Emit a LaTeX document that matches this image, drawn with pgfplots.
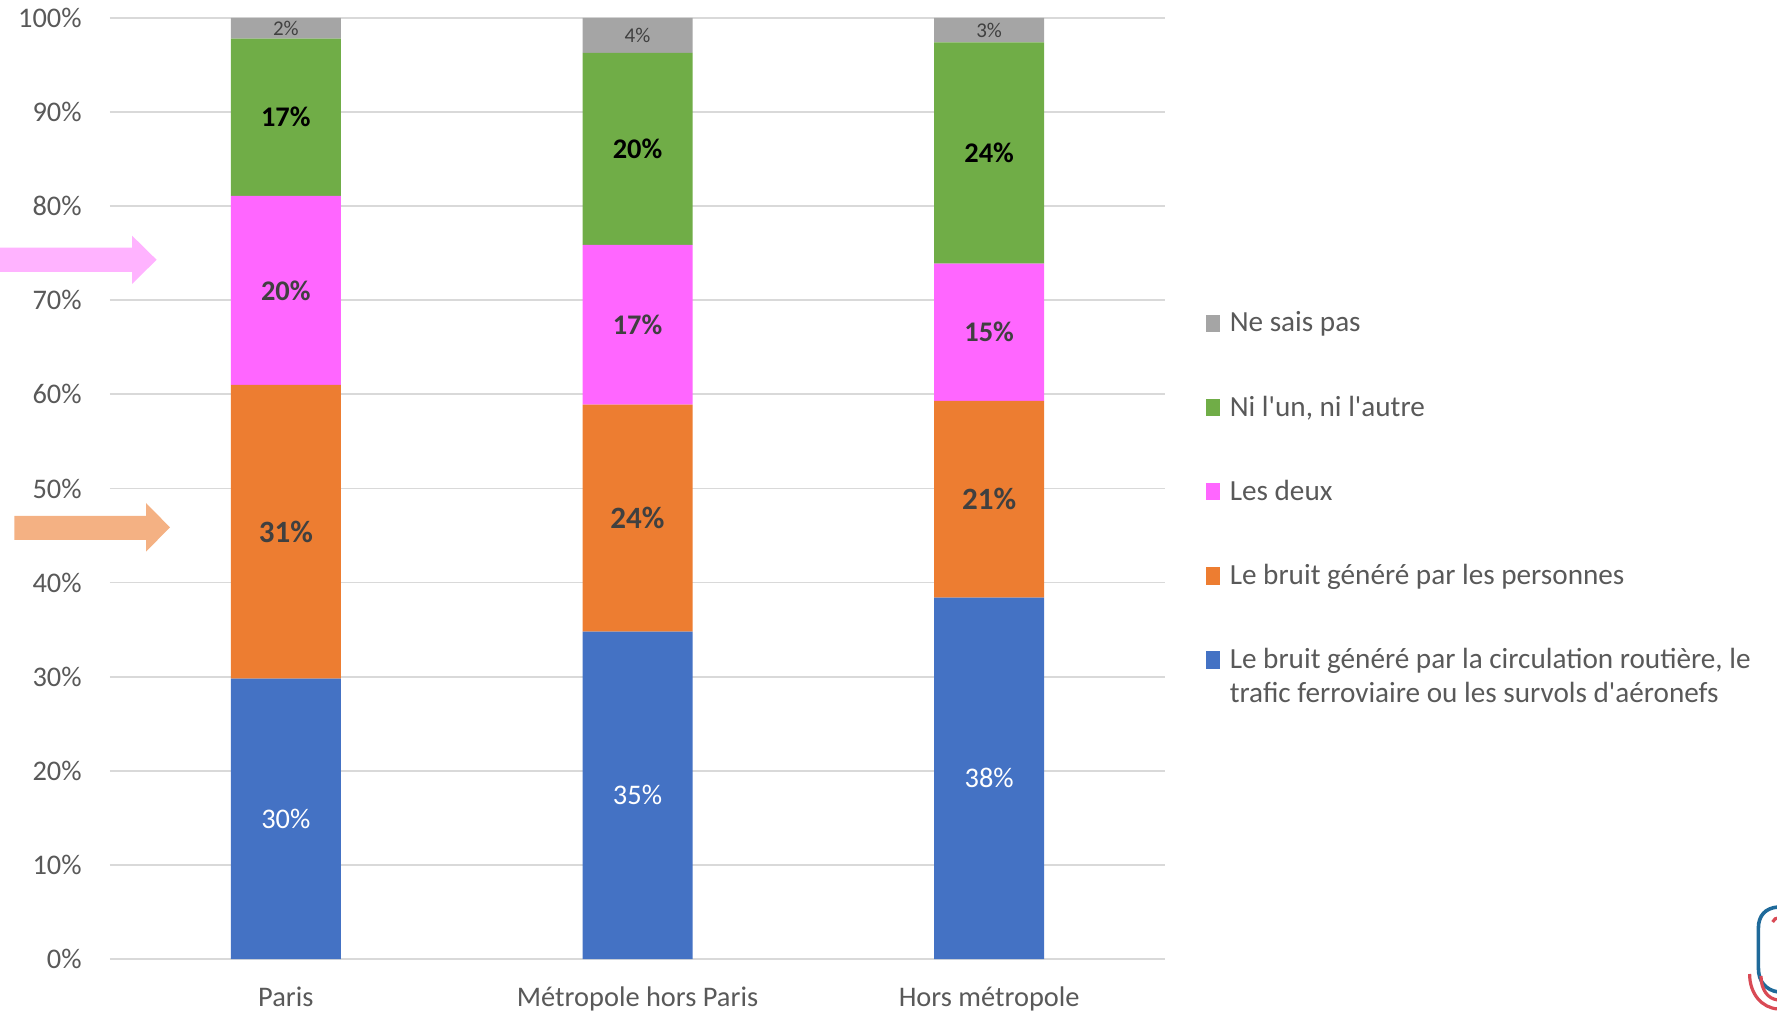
\documentclass[border=0pt]{standalone}
\usepackage{pgfplots}
\pgfplotsset{compat=1.18}
\usepackage{pgfplotstable}
\usepackage{fontspec}
\setmainfont{Carlito}
\definecolor{cblue}{HTML}{4472C4}
\definecolor{corange}{HTML}{ED7D31}
\definecolor{cpink}{HTML}{FF66FF}
\definecolor{cgreen}{HTML}{70AD47}
\definecolor{cgray}{HTML}{A5A5A5}
\definecolor{gridc}{HTML}{D9D9D9}
\definecolor{tickc}{HTML}{595959}
\definecolor{labc}{HTML}{404040}
\definecolor{arrpink}{HTML}{FFB3FF}
\definecolor{arrorange}{HTML}{F4B183}
\definecolor{logoblue}{HTML}{1F6A9A}
\definecolor{logored}{HTML}{D94A55}

\pgfplotstableread{
x blue orange pink green gray
0 29.8 31.2 20.1 16.7 2.2
1 34.8 24.1 17.0 20.4 3.7
2 38.4 20.9 14.6 23.5 2.6
}\datatable

\pgfplotsset{
  common/.style={
    scale only axis, width=527.5pt, height=470.5pt,
    at={(55pt,26.5pt)}, anchor=south west,
    xmin=-0.5, xmax=2.5, ymin=0, ymax=100,
    /pgf/number format/assume math mode=true,
  },
  sq/.style={legend image code/.code={\fill[##1] (0pt,-3.5pt) rectangle (6.7pt,5.2pt);}},
}

\begin{document}
\begin{tikzpicture}
\path[use as bounding box] (0,0) rectangle (888.5pt,506pt);
\begin{axis}[common,
  ybar stacked, bar width=55pt,
  xtick={0,1,2}, xticklabels={Paris, Métropole hors Paris, Hors métropole},
  ytick={0,10,...,100},
  yticklabel={\pgfmathprintnumber{\tick}\%},
  ymajorgrids, grid style={gridc, line width=0.9pt},
  axis line style={draw=none},
  major tick length=0pt,
  tick label style={font=\fontsize{14.2}{16}\selectfont, text=tickc},
  yticklabel style={anchor=east, inner sep=0pt, xshift=-14pt},
  xticklabel style={anchor=base, inner sep=0pt, yshift=-23.5pt},
  reverse legend,
  legend cell align=left,
  legend style={at={(1.03924,0.68757)}, anchor=north west, draw=none, fill=none,
    inner sep=0pt, outer sep=0pt, row sep=29.1pt, column sep=5pt,
    font=\fontsize{14.6}{17}\selectfont, text=tickc,
    nodes={inner sep=0pt, text height=10pt, text depth=3pt}},
]
\addplot[fill=cblue, draw=none, sq] table[x=x, y=blue]{\datatable};
\addlegendentry{\begin{tabular}[t]{@{}l@{}}Le bruit généré par la circulation routière, le\\trafic ferroviaire ou les survols d\textquotesingle aéronefs\end{tabular}}
\addplot[fill=corange, draw=none, sq] table[x=x, y=orange]{\datatable};
\addlegendentry{Le bruit généré par les personnes}
\addplot[fill=cpink, draw=none, sq] table[x=x, y=pink]{\datatable};
\addlegendentry{Les deux}
\addplot[fill=cgreen, draw=none, sq] table[x=x, y=green]{\datatable};
\addlegendentry{Ni l\textquotesingle un, ni l\textquotesingle autre}
\addplot[fill=cgray, draw=none, sq] table[x=x, y=gray]{\datatable};
\addlegendentry{Ne sais pas}
\end{axis}

\begin{axis}[common, hide axis, clip=false,
  nodes near coords={\pgfmathprintnumber[fixed,precision=0]{\pgfplotspointmeta}\%},
  point meta=explicit,
  every node near coord/.append style={anchor=center, inner sep=0pt},
]
\addplot[draw=none, mark=none, nodes near coords style={text=white, font=\fontsize{14.2}{16}\selectfont}]
  table[x=x, y expr=\thisrow{blue}/2, meta=blue]{\datatable};
\addplot[draw=none, mark=none, nodes near coords style={text=labc, font=\bfseries\fontsize{15.5}{16}\selectfont}]
  table[x=x, y expr=\thisrow{blue}+\thisrow{orange}/2, meta=orange]{\datatable};
\addplot[draw=none, mark=none, nodes near coords style={text=labc, font=\bfseries\fontsize{14.2}{16}\selectfont}]
  table[x=x, y expr=\thisrow{blue}+\thisrow{orange}+\thisrow{pink}/2, meta=pink]{\datatable};
\addplot[draw=none, mark=none, nodes near coords style={text=black, font=\bfseries\fontsize{14.2}{16}\selectfont}]
  table[x=x, y expr=\thisrow{blue}+\thisrow{orange}+\thisrow{pink}+\thisrow{green}/2, meta=green]{\datatable};
\addplot[draw=none, mark=none, nodes near coords style={text=labc, font=\fontsize{10.5}{12}\selectfont}]
  table[x=x, y expr=\thisrow{blue}+\thisrow{orange}+\thisrow{pink}+\thisrow{green}+\thisrow{gray}/2, meta=gray]{\datatable};
\end{axis}

% annotation arrows
\fill[arrpink] (0pt,370pt) -- (66pt,370pt) -- (66pt,364pt) -- (78.3pt,376.1pt) -- (66pt,388.2pt) -- (66pt,382.2pt) -- (0pt,382.2pt) -- cycle;
\fill[arrorange] (7.2pt,236pt) -- (73pt,236pt) -- (73pt,230.2pt) -- (85pt,242.3pt) -- (73pt,254.5pt) -- (73pt,248pt) -- (7.2pt,248pt) -- cycle;

% partial logo
\draw[logoblue, line width=1.8pt] (889pt,52.5pt) .. controls (882.5pt,52pt) and (879.2pt,48pt) .. (879.2pt,42pt) -- (879.2pt,22pt) .. controls (879.2pt,15pt) and (883pt,11pt) .. (889pt,10pt);
\draw[logored, line width=1.6pt] (874.8pt,19pt) .. controls (874.8pt,9pt) and (881pt,2pt) .. (889pt,1.5pt);
\draw[logored, line width=1.6pt] (880.5pt,18pt) .. controls (880.5pt,11pt) and (884pt,6.5pt) .. (889pt,6pt);
\draw[logored, line width=1.6pt] (886.3pt,45pt) .. controls (887pt,46.5pt) and (888pt,47pt) .. (889pt,47pt);
\end{tikzpicture}
\end{document}
